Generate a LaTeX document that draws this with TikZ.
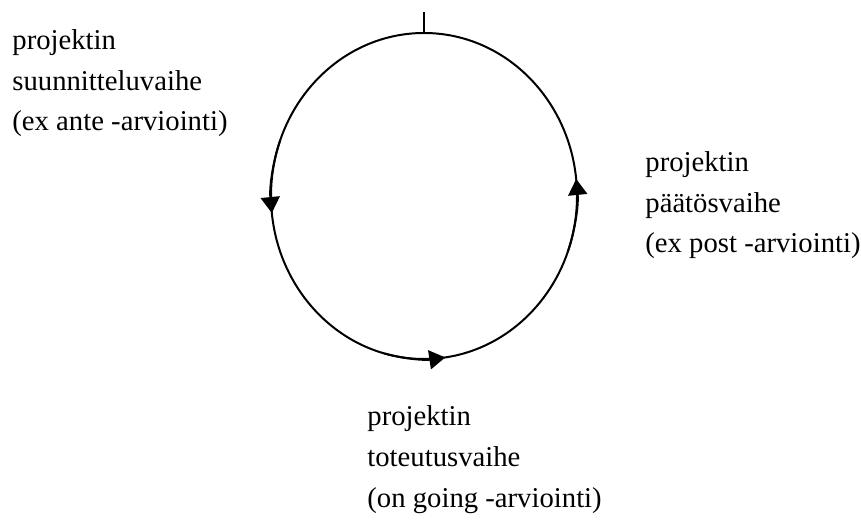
\documentclass[tikz,border=0pt]{standalone}
\usepackage{fontspec}
\setmainfont{Liberation Serif}
\usetikzlibrary{arrows.meta,calc}

\begin{document}
\begin{tikzpicture}[x=0.5pt, y=0.5pt,
  phase/.style={anchor=base west, align=left, inner sep=0pt, font=\fontsize{14.35}{20.25}\selectfont},
  flow/.style={line width=1pt, -{Triangle[width=9.5pt, length=8pt]}}]
  \useasboundingbox (0,0) rectangle (861,524);
  % Kehä
  \coordinate (C) at (424,328);
  \draw[line width=1pt] (C) ellipse[x radius=153, y radius=163];
  \coordinate (top) at ($(C)+(0,163)$);
  \coordinate (tick) at ($(top)+(0,21)$);
  \draw[line width=1.2pt] (top) -- (tick);
  % Nuolet
  \draw[flow] ([shift={({153*cos(160)},{163*sin(160)})}]C) arc[start angle=160, end angle=186, x radius=153, y radius=163];
  \draw[flow] ([shift={({153*cos(255)},{163*sin(255)})}]C) arc[start angle=255, end angle=278, x radius=153, y radius=163];
  \draw[flow] ([shift={({153*cos(340)},{163*sin(340)})}]C) arc[start angle=340, end angle=366, x radius=153, y radius=163];
  % Vaiheet
  \node[phase] (suunnittelu) at (12,393) {projektin\\suunnitteluvaihe\\(ex ante -arviointi)};
  \node[phase] (paatos) at (645,271) {projektin\\päätösvaihe\\(ex post -arviointi)};
  \node[phase] (toteutus) at (367,17) {projektin\\toteutusvaihe\\(on going -arviointi)};
\end{tikzpicture}
\end{document}
